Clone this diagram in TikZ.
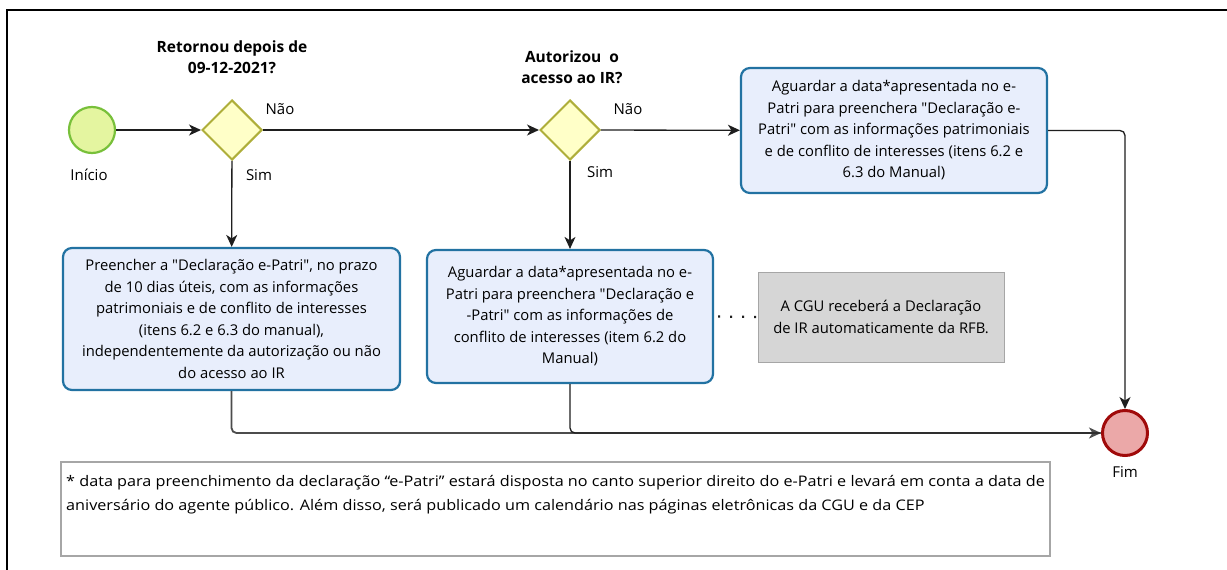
\documentclass[tikz,border=0pt]{standalone}
\usepackage{fontspec}
\setmainfont{Open Sans}[Ligatures=TeXOff]
\newfontfamily\notefont{Open Sans}[Ligatures=TeXOff,FakeStretch=1.11]
\usetikzlibrary{arrows.meta,shapes.geometric}
\definecolor{boxfill}{HTML}{E8EEFC}
\definecolor{boxline}{HTML}{2272A2}
\definecolor{gatefill}{HTML}{FFFFC8}
\definecolor{gateline}{HTML}{AEAE3A}
\definecolor{startfill}{HTML}{E4F5A0}
\definecolor{startline}{HTML}{78C03A}
\definecolor{endfill}{HTML}{EBA8A8}
\definecolor{endline}{HTML}{A00A0A}
\definecolor{grayfill}{HTML}{D6D6D6}
\definecolor{notebord}{HTML}{A6A6A6}
\definecolor{linecol}{HTML}{1E1E1E}
\begin{document}
\begin{tikzpicture}[x=1pt,y=-1pt,
  proc/.style={draw=boxline, line width=2.2pt, fill=boxfill, rounded corners=9pt,
    align=center, inner sep=0pt, font=\fontsize{14.8}{21.5}\selectfont},
  gate/.style={diamond, draw=gateline, fill=gatefill, line width=2pt,
    minimum width=60pt, minimum height=60pt, inner sep=0pt},
  evstart/.style={circle, draw=startline, fill=startfill, line width=2.2pt, minimum size=46pt, inner sep=0pt},
  evend/.style={circle, draw=endline, fill=endfill, line width=3pt, minimum size=45pt, inner sep=0pt},
  lab/.style={font=\fontsize{15}{16}\selectfont, inner sep=0pt},
  ttl/.style={font=\bfseries\fontsize{15.5}{20.5}\selectfont, align=center, inner sep=0pt},
  conn/.style={draw=linecol, line width=1.3pt},
  arr/.style={-{Stealth[length=12pt,width=11pt,inset=3.5pt]}}
]
\useasboundingbox (0,0) rectangle (1227,570);
\clip (0,0) rectangle (1227,570);
\fill[white] (0,0) rectangle (1227,570);
\draw[line width=1.8pt] (7,10) rectangle (1250,600);

% nodes
\node[evstart] (start) at (92,130) {};
\node[lab] (lstart) at (89,175) {Início};
\node[gate] (g1) at (232,130) {};
\node[ttl] (t1) at (232,57) {Retornou depois de\\09-12-2021?};
\node[lab] (n1) at (280,109) {Não};
\node[lab] (s1) at (259,175) {Sim};
\node[gate] (g2) at (570,130) {};
\node[ttl] (t2) at (572,67) {Autorizou\ \ o\\acesso ao IR?};
\node[lab] (n2) at (628,109) {Não};
\node[lab] (s2) at (600,172) {Sim};

\node[proc, minimum width=306pt, minimum height=125pt] (bR) at (894,130.5)
  {Aguardar a data*apresentada no e-\\Patri para preenchera "Declaração e-\\Patri" com as informações patrimoniais\\e de conflito de interesses (itens 6.2 e\\6.3 do Manual)};
\node[proc, minimum width=337pt, minimum height=142pt] (b1) at (231.5,319)
  {Preencher a "Declaração e-Patri", no prazo\\de 10 dias úteis, com as informações\\patrimoniais e de conflito de interesses\\(itens 6.2 e 6.3 do manual),\\independentemente da autorização ou não\\do acesso ao IR};
\node[proc, minimum width=286pt, minimum height=133pt] (b2) at (570,316.5)
  {Aguardar a data*apresentada no e-\\Patri para preenchera "Declaração e\\-Patri" com as informações de\\conflito de interesses (item 6.2 do\\Manual)};
\node[draw=notebord, line width=0.6pt, fill=grayfill, minimum width=246pt, minimum height=90pt,
  align=center, inner sep=0pt, font=\fontsize{14.8}{21.5}\selectfont] (gray) at (881,317)
  {A CGU receberá a Declaração\\de IR automaticamente da RFB.};

\node[evend] (end) at (1125,433) {};
\node[lab] (lend) at (1125,472) {Fim};

\node[draw=notebord, line width=1.5pt, minimum width=989pt, minimum height=94pt, inner sep=0pt] (note) at (555.5,509) {};
\node[anchor=north west, align=left, inner sep=0pt, font=\notefont\fontsize{14.6}{24}\selectfont] (notetext) at (66,475)
  {* data para preenchimento da declaração “e-Patri” estará disposta no canto superior direito do e-Patri e levará em conta a data de\\aniversário do agente público. Além disso, será publicado um calendário nas páginas eletrônicas da CGU e da CEP};

% connectors
\draw[conn,arr] (start) -- (g1);
\draw[conn,arr] (g1) -- (g2);
\draw[conn,arr] (g1) -- (b1);
\draw[conn,arr] (g2) -- (bR);
\draw[conn,arr] (g2) -- (b2);
\draw[conn,arr,rounded corners=5pt] (bR.east) -| (end.north);
\draw[conn,line width=1.8pt,draw=black!70,arr,rounded corners=5pt] (b1.south) |- (end.west);
\draw[conn,rounded corners=5pt] (b2.south) |- (end.west);
\draw[linecol, line width=2.2pt, dash pattern=on 2pt off 10pt, dash phase=-4pt] (b2.east) -- (gray.west);
\end{tikzpicture}
\end{document}
